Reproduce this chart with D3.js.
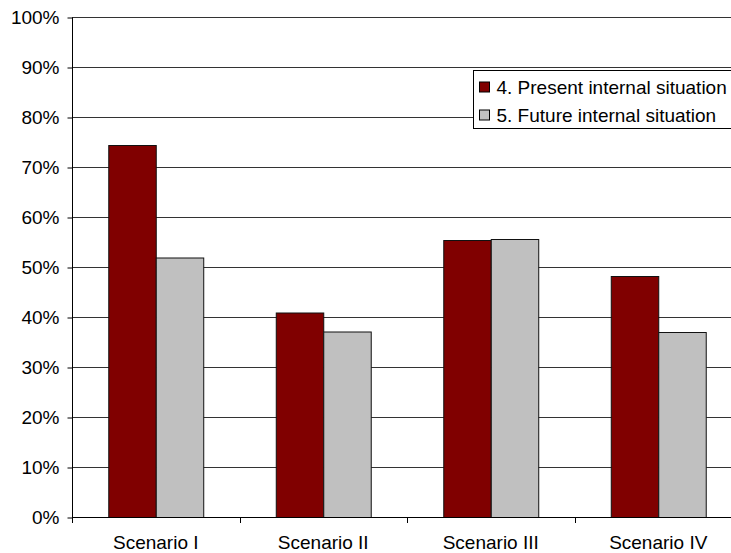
<!DOCTYPE html>
<html>
<head>
<meta charset="utf-8">
<script src="https://cdn.jsdelivr.net/npm/d3@7"></script>
<style>
  body { margin: 0; background: #fff; }
  svg { display: block; font-family: "Liberation Sans", Arial, sans-serif; }
</style>
</head>
<body>
<div id="chart"></div>
<script>
var categories = ['Scenario I', 'Scenario II', 'Scenario III', 'Scenario IV'];
var seriesNames = ['4. Present internal situation', '5. Future internal situation'];
var presentValues = [0.744, 0.409, 0.554, 0.482];
var futureValues = [0.519, 0.371, 0.556, 0.370];
var yTicks = [0, 0.1, 0.2, 0.3, 0.4, 0.5, 0.6, 0.7, 0.8, 0.9, 1.0];
var colors = ['#800000', '#C0C0C0'];

var width = 731, height = 553;
var plotLeft = 72, plotRight = 742, plotTop = 17, plotBottom = 517;
var fontSize = 19;

var svg = d3.select('#chart')
  .append('svg')
  .attr('width', width)
  .attr('height', height);

var y = d3.scaleLinear().domain([0, 1]).range([plotBottom, plotTop]);

var x0 = d3.scaleBand()
  .domain(categories)
  .range([plotLeft, plotRight])
  .paddingInner(0.433)
  .paddingOuter(0.2165);

var x1 = d3.scaleBand()
  .domain([0, 1])
  .range([0, x0.bandwidth()])
  .padding(0);

// gridlines
svg.append('g')
  .selectAll('line')
  .data(yTicks.filter(function (d) { return d > 0; }))
  .enter()
  .append('line')
  .attr('x1', plotLeft)
  .attr('x2', plotRight)
  .attr('y1', function (d) { return Math.round(y(d)) + 0.5; })
  .attr('y2', function (d) { return Math.round(y(d)) + 0.5; })
  .attr('stroke', '#333')
  .attr('stroke-width', 1);

// bars
var groups = svg.append('g')
  .selectAll('g')
  .data(categories)
  .enter()
  .append('g')
  .attr('transform', function (d) { return 'translate(' + x0(d) + ',0)'; });

groups.selectAll('rect')
  .data(function (d, i) { return [presentValues[i], futureValues[i]]; })
  .enter()
  .append('rect')
  .attr('x', function (d, i) { return x1(i) + 0.5; })
  .attr('y', function (d) { return y(d) + 0.5; })
  .attr('width', x1.bandwidth())
  .attr('height', function (d) { return plotBottom - y(d); })
  .attr('fill', function (d, i) { return colors[i]; })
  .attr('stroke', '#111')
  .attr('stroke-width', 1);

// y axis
var yAxis = d3.axisLeft(y)
  .tickValues(yTicks)
  .tickFormat(d3.format('.0%'))
  .tickSize(5)
  .tickPadding(8);

var yg = svg.append('g')
  .attr('transform', 'translate(' + (plotLeft + 0.5) + ',0.5)')
  .call(yAxis);
yg.select('.domain')
  .attr('stroke', '#000')
  .attr('d', 'M0,' + plotTop + 'V' + plotBottom);
yg.selectAll('.tick line').attr('stroke', '#000');
yg.selectAll('.tick text')
  .attr('font-size', fontSize)
  .attr('font-family', '"Liberation Sans", Arial, sans-serif')
  .attr('fill', '#000');

// x axis baseline and category ticks
var step = x0.step();
svg.append('line')
  .attr('x1', plotLeft)
  .attr('x2', plotRight)
  .attr('y1', plotBottom + 0.5)
  .attr('y2', plotBottom + 0.5)
  .attr('stroke', '#000');

svg.append('g')
  .selectAll('line')
  .data(d3.range(categories.length + 1))
  .enter()
  .append('line')
  .attr('x1', function (i) { return Math.round(plotLeft + i * step) + 0.5; })
  .attr('x2', function (i) { return Math.round(plotLeft + i * step) + 0.5; })
  .attr('y1', plotBottom)
  .attr('y2', plotBottom + 6)
  .attr('stroke', '#000');

svg.append('g')
  .selectAll('text')
  .data(categories)
  .enter()
  .append('text')
  .attr('x', function (d) { return x0(d) + x0.bandwidth() / 2; })
  .attr('y', 549)
  .attr('text-anchor', 'middle')
  .attr('font-size', fontSize)
  .text(function (d) { return d; });

// legend
var legend = svg.append('g').attr('transform', 'translate(473.5,70.5)');
legend.append('rect')
  .attr('width', 262)
  .attr('height', 58)
  .attr('fill', '#fff')
  .attr('stroke', '#000');

var items = legend.selectAll('g.item')
  .data(seriesNames)
  .enter()
  .append('g')
  .attr('class', 'item')
  .attr('transform', function (d, i) { return 'translate(0,' + (16.5 + i * 28) + ')'; });

items.append('rect')
  .attr('x', 6)
  .attr('y', -5)
  .attr('width', 10)
  .attr('height', 10)
  .attr('fill', function (d, i) { return colors[i]; })
  .attr('stroke', '#000');

items.append('text')
  .attr('x', 23)
  .attr('dy', '0.36em')
  .attr('font-size', fontSize)
  .text(function (d) { return d; });
</script>
</body>
</html>
